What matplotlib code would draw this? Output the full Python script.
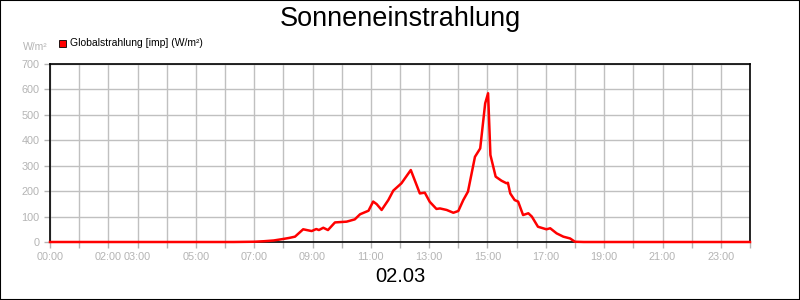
import matplotlib
matplotlib.use("Agg")
import matplotlib.pyplot as plt
from matplotlib.patches import Rectangle

plt.rcParams['font.family'] = ['Liberation Sans', 'DejaVu Sans']

title = "Sonneneinstrahlung"
date_label = "02.03"
series_name = "Globalstrahlung [imp] (W/m²)"
unit = "W/m²"

hours = [0.0, 6.3, 7.0, 7.33, 7.67, 8.0, 8.2, 8.4, 8.68, 8.97, 9.13, 9.22, 9.37, 9.53,
         9.77, 10.17, 10.45, 10.63, 10.92, 11.08, 11.2, 11.37, 11.6, 11.77, 12.05, 12.37,
         12.68, 12.85, 13.02, 13.25, 13.37, 13.6, 13.83, 14.0, 14.17, 14.33, 14.57, 14.75,
         14.92, 15.02, 15.1, 15.28, 15.48, 15.65, 15.7, 15.78, 15.93, 16.05, 16.22, 16.4,
         16.52, 16.73, 17.02, 17.15, 17.37, 17.6, 17.83, 18.0, 18.3, 24.0]
values = [0, 0, 1, 3, 6, 12, 16, 21, 50, 43, 51, 47, 56, 47,
          77, 80, 89, 109, 123, 159, 149, 126, 165, 202, 231, 283,
          191, 194, 158, 130, 132, 126, 115, 122, 165, 198, 335, 368,
          545, 585, 342, 257, 241, 231, 233, 191, 165, 159, 106, 113,
          100, 60, 50, 54, 34, 21, 14, 1, 0, 0]

xtick_pos = [0, 2, 3, 5, 7, 9, 11, 13, 15, 17, 19, 21, 23]
xtick_labels = ["00:00", "02:00", "03:00", "05:00", "07:00", "09:00", "11:00",
                "13:00", "15:00", "17:00", "19:00", "21:00", "23:00"]
yticks = [0, 100, 200, 300, 400, 500, 600, 700]

gray = "#b4b4b4"
fig = plt.figure(figsize=(8, 3), dpi=100)
fig.patches.append(Rectangle((0, 0), 1, 1, transform=fig.transFigure, fill=False,
                             edgecolor="black", linewidth=1.5))
ax = fig.add_axes([50/800, 58/300, 700/800, 178/300])
ax.set_xlim(0, 24)
ax.set_ylim(0, 700)
ax.set_xticks(range(0, 25))
ax.set_xticklabels([xtick_labels[xtick_pos.index(h)] if h in xtick_pos else "" for h in range(25)])
ax.set_yticks(yticks)
ax.grid(True, color="#c0c0c0", linewidth=1)
ax.set_axisbelow(True)
ax.tick_params(axis="both", colors=gray, labelcolor=gray, labelsize=7.8, length=4, width=1)
ax.tick_params(axis="x", pad=3)
for s in ax.spines.values():
    s.set_color("black")
    s.set_linewidth(1.2)

ax.plot(hours, values, color="#ff0000", linewidth=1.8, clip_on=False, zorder=3)

fig.text(0.5, 1 - 19/300, title, ha="center", va="center", fontsize=19.5)
fig.text(0.5, 1 - 277/300, date_label, ha="center", va="center", fontsize=14.5)
fig.text(48/800, 1 - 47/300, unit, ha="right", va="center", fontsize=7.5, color=gray)
fig.patches.append(Rectangle((59/800, 1 - 47/300), 7/800, 7/300, transform=fig.transFigure,
                             facecolor="#ff0000", edgecolor="black", linewidth=0.6))
fig.text(70/800, 1 - 43/300, series_name, ha="left", va="center", fontsize=7.5)

fig.savefig("out.png", dpi=100)
